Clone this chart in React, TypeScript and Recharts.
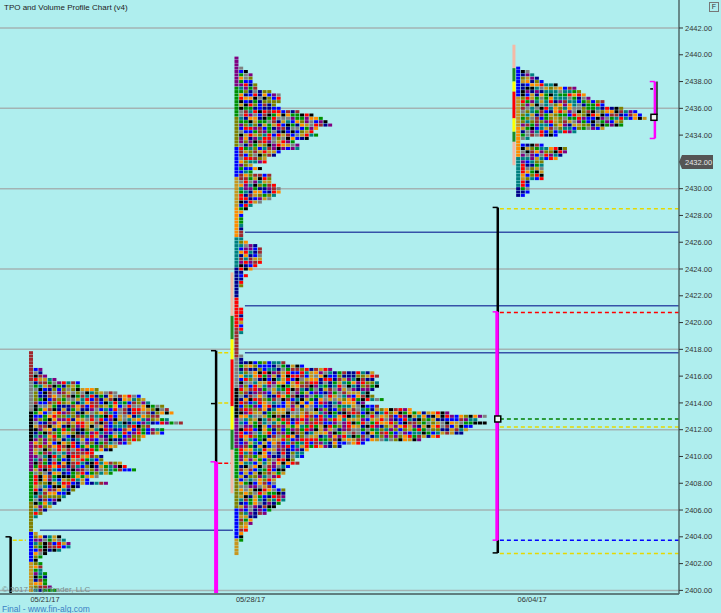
import React from 'react';
import { ComposedChart, Scatter, XAxis, YAxis, ReferenceLine, ReferenceDot } from 'recharts';

// session dates shown under each profile
const dates = ['05/21/17', '05/28/17', '06/04/17'];

// top price of each profile (rows go down in 0.25 steps)
const profileTops = [2417.75, 2439.75, 2439.0];

// TPO counts per price row, top to bottom
const profile1 = [
  1, 1, 1, 1, 1, 3, 3, 4, 6, 11, 11, 15, 19, 24, 25, 26, 29, 30, 31, 28,
  30, 33, 26, 29, 29, 25, 24, 22, 19, 18, 14, 16, 16, 20, 21, 23, 18, 15, 13,
  17, 11, 10, 9, 8, 7, 6, 5, 4, 3, 2, 1, 1, 1, 1, 2, 7, 8, 9, 9,
  7, 4, 3, 2, 3, 3, 3, 4, 4, 4, 4, 5, 6,
];

const profile2 = [
  1, 1, 1, 2, 3, 4, 4, 4, 5, 5, 8, 10, 10, 10, 9, 10,
  14, 17, 19, 20, 21, 18, 17, 18, 16, 13, 14, 14, 10, 9, 7, 7, 4, 6, 4, 8,
  8, 8, 9, 10, 10, 9, 8, 6, 4, 3, 2, 2, 2,
  2, 2, 2, 2, 2, 2, 3, 5, 6, 6, 6, 6, 6, 5, 4, 2, 3, 2, 2, 2,
  1, 1, 1, 1, 1, 1, 2, 2, 2, 2, 2, 2, 2, 2, 1, 1, 1, 1, 1, 1,
  2, 2, 11, 15, 21, 30, 31, 30, 31, 31, 30, 29, 30, 32, 28, 31, 38, 46, 54, 52,
  54, 51, 50, 49, 44, 40, 28, 23, 16, 15, 15, 13, 14, 12, 11, 11, 10, 9, 9, 9,
  11, 11, 11, 11, 10, 9, 8, 7, 5, 4, 4, 3, 3, 2, 2, 2, 1, 1, 1, 1,
];

const profile3 = [
  1, 3, 4, 5, 6, 9, 13, 14, 15, 16, 19, 19, 23, 26, 27, 28, 23, 23, 19, 13,
  9, 3, 1, 6, 11, 11, 10, 9, 6, 6, 6, 6, 6, 6, 3, 3, 3, 3, 2,
];

const priceTicks = [
  2400, 2402, 2404, 2406, 2408, 2410, 2412, 2414, 2416, 2418, 2420,
  2422, 2424, 2426, 2428, 2430, 2432, 2434, 2436, 2438, 2440, 2442,
];
const gridPrices = [2400, 2406, 2412, 2418, 2424, 2430, 2436, 2442];
const lastPrice = 2432.0;

// naked POC levels and the range/IB levels of each session
const pocLevels = [2426.75, 2421.25, 2417.75];
const oldPocLevel = 2404.5;
const p3Levels = [
  { price: 2428.5, color: '#e6d800' },
  { price: 2420.75, color: '#ff0000' },
  { price: 2412.8, color: '#008000' },
  { price: 2412.2, color: '#e6d800' },
  { price: 2403.75, color: '#0000ff' },
  { price: 2402.75, color: '#e6d800' },
];
const p2Periods = [
  { from: 2423.75, to: 2420.5, color: '#f5b9a5' },
  { from: 2420.5, to: 2418.75, color: '#228b22' },
  { from: 2418.75, to: 2417.25, color: '#ffff00' },
  { from: 2417.25, to: 2413.75, color: '#ff0000' },
  { from: 2413.75, to: 2412.0, color: '#ffff00' },
  { from: 2412.0, to: 2410.5, color: '#228b22' },
  { from: 2410.5, to: 2407.25, color: '#f5b9a5' },
];
const p3Periods = [
  { from: 2440.75, to: 2439.0, color: '#f5b9a5' },
  { from: 2439.0, to: 2438.0, color: '#228b22' },
  { from: 2438.0, to: 2437.25, color: '#ffff00' },
  { from: 2437.25, to: 2435.25, color: '#ff0000' },
  { from: 2435.25, to: 2434.25, color: '#ffff00' },
  { from: 2434.25, to: 2433.5, color: '#228b22' },
  { from: 2433.5, to: 2431.75, color: '#f5b9a5' },
];

const X_MAX = 145;
const Y_MIN = 2399.73;
const Y_MAX = 2444.09;
const starts = [6.12, 50.0, 110.15];

const palette = [
  '#a0282d', '#808000', '#00008b', '#800080', '#ff8c00', '#808080',
  '#0000ff', '#ff0000', '#009000', '#008080', '#000000', '#c8961e',
];

function blockColor(p: number, r: number, c: number) {
  if (c === 0) return palette[(Math.floor(r / 9) * 5 + p * 3) % palette.length];
  let h = Math.imul(r + 1, 374761393) ^ Math.imul(c + 7, 668265263) ^ Math.imul(p + 3, 1274126177);
  h = Math.imul(h ^ (h >>> 13), 1274126177);
  h ^= h >>> 16;
  return palette[(h >>> 0) % palette.length];
}

const allCounts = [profile1, profile2, profile3];
const blocks = allCounts.map((counts, p) => {
  const pts: { x: number; y: number; fill: string }[] = [];
  counts.forEach((n, r) => {
    for (let i = 0; i < n; i++) {
      pts.push({ x: starts[p] + i + 0.5, y: profileTops[p] - r * 0.25, fill: blockColor(p, r, i) });
    }
  });
  return pts;
});

const dateTicks = starts.map((s) => s + 3.5);

const Block = (props: any) => {
  const { cx, cy, payload } = props;
  if (cx == null || cy == null) return null;
  return <rect x={cx - 2} y={cy - 1.5} width={4} height={3} fill={payload.fill} />;
};

const PriceTick = (props: any) => {
  const { x, y, payload } = props;
  if (payload.value === lastPrice) {
    return (
      <g>
        <polygon
          points={`${x - 6},${y} ${x - 3},${y - 7} ${x + 28},${y - 7} ${x + 28},${y + 7} ${x - 3},${y + 7}`}
          fill="#555"
        />
        <text x={x} y={y} dy="0.35em" fontSize={7.5} fill="#e8e8e8">
          {payload.value.toFixed(2)}
        </text>
      </g>
    );
  }
  return (
    <text x={x} y={y} dy="0.35em" fontSize={7.5} fill="#333">
      {payload.value.toFixed(2)}
    </text>
  );
};

function seg(x1: number, y1: number, x2: number, y2: number, color: string, w: number, key: string, dash?: string) {
  return (
    <ReferenceLine
      key={key}
      segment={[{ x: x1, y: y1 }, { x: x2, y: y2 }]}
      stroke={color}
      strokeWidth={w}
      strokeDasharray={dash}
      ifOverflow="visible"
    />
  );
}

const PocBox = (props: any) => (
  <rect x={props.cx - 3} y={props.cy - 3} width={6} height={6} fill="#f0f4f4" stroke="#000" strokeWidth={1.5} />
);

export default function App() {
  const b1 = starts[0] - 3.85;
  const b2 = starts[1] - 3.85;
  const b3 = starts[2] - 3.85;
  const br = starts[2] + 29.7;

  return (
    <div
      style={{
        position: 'absolute',
        left: 0,
        top: 0,
        width: 721,
        height: 613,
        overflow: 'hidden',
        background: '#afeeee',
        fontFamily: '"Liberation Sans", Arial, sans-serif',
      }}
    >
      <ComposedChart width={721} height={613} margin={{ top: 0, right: 0, bottom: 0, left: 0 }}>
        <XAxis
          type="number"
          dataKey="x"
          domain={[0, X_MAX]}
          ticks={dateTicks}
          tickFormatter={(v: number) => dates[dateTicks.indexOf(v)] ?? ''}
          height={19}
          tickLine={false}
          tickSize={0}
          tickMargin={3}
          tick={{ fontSize: 7.5, fill: '#333' }}
          axisLine={{ stroke: '#5f7f7f', strokeWidth: 2 }}
          allowDataOverflow
        />
        <YAxis
          type="number"
          dataKey="y"
          orientation="right"
          domain={[Y_MIN, Y_MAX]}
          ticks={priceTicks}
          interval={0}
          width={42}
          tickSize={4}
          tickMargin={2}
          tick={<PriceTick />}
          tickLine={{ stroke: '#333' }}
          axisLine={{ stroke: '#506868', strokeWidth: 1.5 }}
          allowDataOverflow
        />

        {gridPrices.map((g) => (
          <ReferenceLine key={'g' + g} y={g} stroke="#a3b3b3" strokeWidth={1.5} />
        ))}

        {blocks.map((pts, i) => (
          <Scatter key={'p' + i} data={pts} shape={<Block />} isAnimationActive={false} />
        ))}

        {pocLevels.map((p, i) => seg(starts[1] + 2.3, p, X_MAX, p, '#3652a8', 1.5, 'poc' + i))}
        {seg(starts[0] + 2.4, oldPocLevel, starts[1] - 0.25, oldPocLevel, '#3652a8', 1.5, 'poc-old')}

        {/* session 1 range */}
        {seg(b1, 2404.0, b1, Y_MIN, '#000', 2.5, 'r1')}
        {seg(b1 - 1.1, 2404.0, b1, 2404.0, '#000', 1.5, 'r1t')}
        {seg(b1 + 0.45, 2403.75, starts[0] - 0.6, 2403.75, '#e6d800', 1.5, 'r1y', '4 2')}

        {/* session 2 range */}
        {seg(b2, 2417.9, b2, 2409.6, '#000', 2.5, 'r2')}
        {seg(b2, 2409.6, b2, Y_MIN, '#ff00ff', 4, 'r2m')}
        {seg(b2 - 1.1, 2417.9, b2, 2417.9, '#000', 1.5, 'r2t1')}
        {seg(b2 - 1.1, 2413.95, b2, 2413.95, '#000', 1.5, 'r2t2')}
        {seg(b2 - 1.2, 2409.6, b2, 2409.6, '#ff00ff', 1.5, 'r2t3')}
        {seg(b2 + 0.45, 2417.75, starts[1] - 0.7, 2417.75, '#e6d800', 1.5, 'r2y1', '4 2')}
        {seg(b2 + 0.45, 2414.0, starts[1] - 0.7, 2414.0, '#e6d800', 1.5, 'r2y2', '4 2')}
        {seg(b2 + 0.45, 2409.5, starts[1] - 0.7, 2409.5, '#ff0000', 1.5, 'r2r', '4 2')}
        {p2Periods.map((s, i) => seg(starts[1] - 0.45, s.from, starts[1] - 0.45, s.to, s.color, 3, 'pp2' + i))}

        {/* session 3 range */}
        {p3Levels.map((l, i) => seg(b3 + 0.45, l.price, X_MAX, l.price, l.color, 1.5, 'l3' + i, '4 3'))}
        {seg(b3, 2428.6, b3, 2402.8, '#000', 2.5, 'r3')}
        {seg(b3 - 0.15, 2420.8, b3 - 0.15, 2403.75, '#ff00ff', 3.5, 'r3m')}
        {seg(b3 - 1.1, 2428.6, b3, 2428.6, '#000', 1.5, 'r3t1')}
        {seg(b3 - 1.1, 2402.8, b3, 2402.8, '#000', 1.5, 'r3t2')}
        {seg(b3 - 1.1, 2420.8, b3, 2420.8, '#ff00ff', 1.5, 'r3t3')}
        {seg(b3 - 1.1, 2403.75, b3, 2403.75, '#ff00ff', 1.5, 'r3t4')}
        <ReferenceDot x={b3} y={2412.8} r={3} shape={<PocBox />} ifOverflow="visible" />
        {p3Periods.map((s, i) => seg(starts[2] - 0.4, s.from, starts[2] - 0.4, s.to, s.color, 3, 'pp3' + i))}

        {/* current session bracket */}
        {seg(br, 2438.0, br, 2433.75, '#ff00ff', 2.5, 'br')}
        {seg(br - 1.1, 2438.0, br, 2438.0, '#ff00ff', 1.5, 'brt')}
        {seg(br - 1.1, 2433.75, br, 2433.75, '#ff00ff', 1.5, 'brb')}
        {seg(br + 0.45, 2438.0, br + 0.45, 2435.5, '#222', 1.5, 'brk')}
        {seg(br - 1.0, 2437.45, br - 0.4, 2437.45, '#000', 1.5, 'brd')}
        <ReferenceDot x={br - 0.2} y={2435.33} r={3} shape={<PocBox />} ifOverflow="visible" />
      </ComposedChart>

      <div style={{ position: 'absolute', left: 4, top: 4, fontSize: 8, color: '#222', lineHeight: 1 }}>
        TPO and Volume Profile Chart (v4)
      </div>
      <div
        style={{
          position: 'absolute',
          left: 709,
          top: 2,
          width: 8,
          height: 8,
          border: '1px solid #777',
          fontSize: 7,
          lineHeight: '8px',
          textAlign: 'center',
          color: '#333',
        }}
      >
        F
      </div>
      <div style={{ position: 'absolute', left: 2, top: 586, fontSize: 8, color: '#7a8a8a', lineHeight: 1 }}>
        © 2017 NinjaTrader, LLC
      </div>
      <div style={{ position: 'absolute', left: 2, top: 604.5, fontSize: 8.5, color: '#3a80c4', lineHeight: 1 }}>
        Final - www.fin-alg.com
      </div>
    </div>
  );
}
